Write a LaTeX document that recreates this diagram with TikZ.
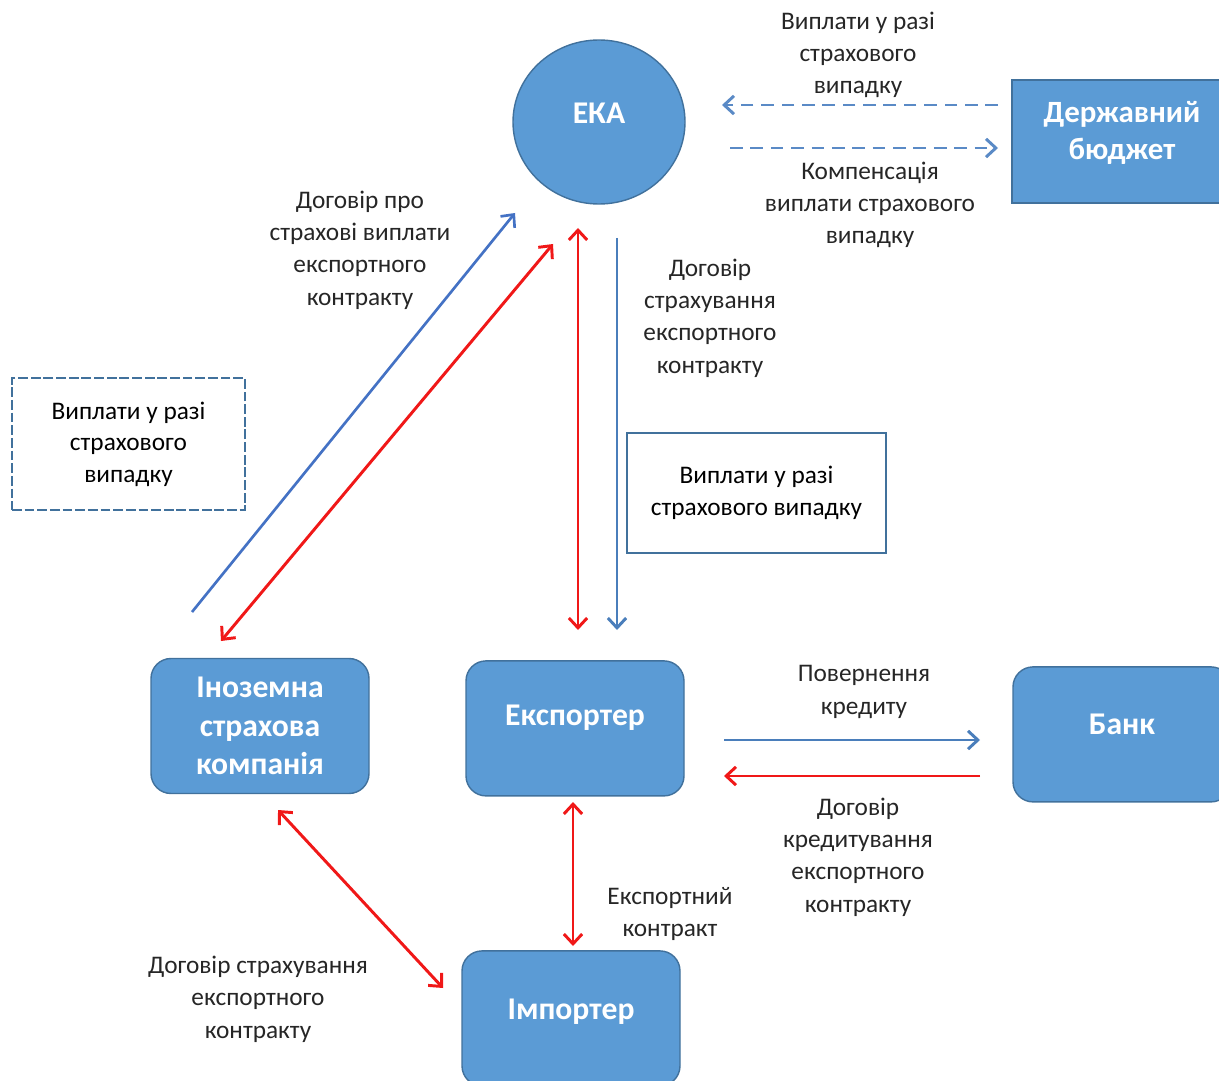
\documentclass[tikz,border=0pt]{standalone}
\usepackage{fontspec}
\setmainfont{Carlito}
\usetikzlibrary{arrows.meta,shapes.geometric}
\definecolor{boxblue}{HTML}{5B9BD5}
\definecolor{edgeblue}{HTML}{41719C}
\definecolor{lineblue}{HTML}{4A7EBB}
\definecolor{diagblue}{HTML}{4472C4}
\definecolor{dashblue}{HTML}{5A8AC6}
\definecolor{arrowred}{HTML}{F01818}
\tikzstyle{none}=[]
\tikzstyle{blue oval}=[ellipse, fill=boxblue, draw=edgeblue, line width=1pt, minimum width=4.3cm, minimum height=4.1cm, text=white, font=\fontsize{22.5}{28}\selectfont\bfseries]
\tikzstyle{blue rect}=[rectangle, fill=boxblue, draw=edgeblue, line width=1pt, minimum width=5.5cm, minimum height=3.075cm, align=center, text=white, font=\fontsize{22}{26.5}\selectfont\bfseries]
\tikzstyle{blue rounded}=[rectangle, rounded corners=0.5cm, fill=boxblue, draw=edgeblue, line width=1pt, minimum width=5.45cm, minimum height=3.375cm, align=center, text=white, font=\fontsize{22.5}{27.5}\selectfont\bfseries]
\tikzstyle{note}=[rectangle, draw=edgeblue, line width=0.8pt, minimum width=6.475cm, minimum height=3cm, align=center, font=\fontsize{18}{22.5}\selectfont]
\tikzstyle{dashed note}=[rectangle, draw=edgeblue, line width=0.8pt, dash pattern=on 7pt off 2pt, minimum width=5.825cm, minimum height=3.3cm, align=center, font=\fontsize{18}{22.5}\selectfont]
\tikzstyle{lbl}=[align=center, text=black!85, font=\fontsize{18}{23}\selectfont]
\tikzstyle{blue single}=[-{Straight Barb[length=7pt,width=13pt]}, draw=lineblue, line width=2.1pt]
\tikzstyle{blue diag}=[-{Straight Barb[length=7pt,width=13pt]}, draw=diagblue, line width=1.9pt]
\tikzstyle{blue dashed}=[-{Straight Barb[length=7pt,width=13pt]}, draw=dashblue, line width=2.1pt, dash pattern=on 9pt off 5.5pt]
\tikzstyle{red single}=[-{Straight Barb[length=7pt,width=13pt]}, draw=arrowred, line width=2.1pt]
\tikzstyle{red double}=[{Straight Barb[length=7pt,width=13pt]}-{Straight Barb[length=7pt,width=13pt]}, draw=arrowred, line width=2.1pt]

\begin{document}
\begin{tikzpicture}
		\useasboundingbox (0, 0) rectangle (30.475, -27.025);
		\node [style=blue oval, text depth=0.45cm] (0) at (14.975, -3.05) {ЕКА};
		\node [style=blue rect, text depth=0.55cm] (1) at (28.05, -3.54) {Державний\\бюджет};
		\node [style=blue rounded] (2) at (6.5, -18.15) {Іноземна\\страхова\\компанія};
		\node [style=blue rounded, text depth=0.65cm] (3) at (14.375, -18.21) {Експортер};
		\node [style=blue rounded, text depth=0.5cm] (4) at (28.05, -18.36) {Банк};
		\node [style=blue rounded, text depth=0.45cm] (5) at (14.275, -25.46) {Імпортер};
		\node [style=dashed note] (6) at (3.2125, -11.1) {Виплати у разі\\страхового\\випадку};
		\node [style=note] (7) at (18.9125, -12.325) {Виплати у разі\\страхового випадку};
		\node [style=lbl] (8) at (21.45, -1.375) {Виплати у разі\\страхового\\випадку};
		\node [style=lbl] (9) at (21.75, -5.125) {Компенсація\\виплати страхового\\випадку};
		\node [style=lbl] (10) at (9.0, -6.25) {Договір про\\страхові виплати\\експортного\\контракту};
		\node [style=lbl] (11) at (17.75, -7.95) {Договір\\страхування\\експортного\\контракту};
		\node [style=lbl] (12) at (21.6, -17.3) {Повернення\\кредиту};
		\node [style=lbl] (13) at (21.45, -21.425) {Договір\\кредитування\\експортного\\контракту};
		\node [style=lbl] (14) at (16.75, -22.85) {Експортний\\контракт};
		\node [style=lbl] (15) at (6.45, -24.975) {Договір страхування\\експортного\\контракту};
		\node [style=none] (16) at (24.95, -2.625) {};
		\node [style=none] (17) at (18.05, -2.625) {};
		\node [style=none] (18) at (18.25, -3.7) {};
		\node [style=none] (19) at (24.95, -3.7) {};
		\node [style=none] (20) at (4.8, -15.3) {};
		\node [style=none] (21) at (12.875, -5.325) {};
		\node [style=none] (22) at (13.825, -6.1) {};
		\node [style=none] (23) at (5.525, -16.025) {};
		\node [style=none] (24) at (14.45, -5.7) {};
		\node [style=none] (25) at (14.45, -15.75) {};
		\node [style=none] (26) at (15.425, -5.95) {};
		\node [style=none] (27) at (15.425, -15.75) {};
		\node [style=none] (28) at (18.1, -18.5) {};
		\node [style=none] (29) at (24.5, -18.5) {};
		\node [style=none] (30) at (24.5, -19.4) {};
		\node [style=none] (31) at (18.1, -19.4) {};
		\node [style=none] (32) at (14.325, -20.05) {};
		\node [style=none] (33) at (14.325, -23.65) {};
		\node [style=none] (34) at (6.95, -20.25) {};
		\node [style=none] (35) at (11.075, -24.7) {};
		\draw [style=blue dashed] (16.center) to (17.center);
		\draw [style=blue dashed] (18.center) to (19.center);
		\draw [style=blue diag] (20.center) to (21.center);
		\draw [style=red double] (22.center) to (23.center);
		\draw [style=red double] (24.center) to (25.center);
		\draw [style=blue single] (26.center) to (27.center);
		\draw [style=blue single] (28.center) to (29.center);
		\draw [style=red single] (30.center) to (31.center);
		\draw [style=red double] (32.center) to (33.center);
		\draw [style=red double] (34.center) to (35.center);
\end{tikzpicture}
\end{document}
